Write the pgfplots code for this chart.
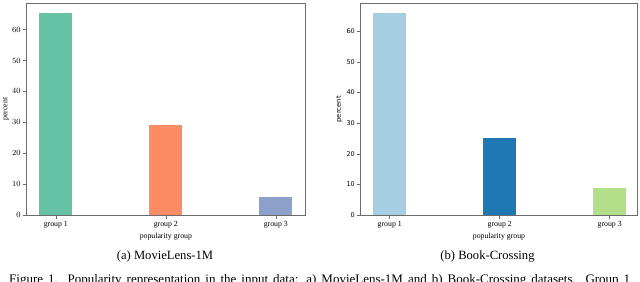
\documentclass[border=0pt]{standalone}
\usepackage{fontspec}
\setmainfont{Liberation Serif}
\newfontfamily\dejavu{DejaVu Sans}
\usepackage{pgfplots}
\pgfplotsset{compat=1.18}
\definecolor{axgray}{rgb}{0.42,0.42,0.42}
\definecolor{s2a}{HTML}{66C2A5}
\definecolor{s2b}{HTML}{FC8D62}
\definecolor{s2c}{HTML}{8DA0CB}
\definecolor{pa}{HTML}{A6CEE3}
\definecolor{pb}{HTML}{1F78B4}
\definecolor{pc}{HTML}{B2DF8A}
\pgfplotsset{
  mystyle/.style={
    scale only axis,
    width=#1,
    height=212bp,
    ymin=0,
    axis line style={axgray, line width=0.6pt},
    xtick={0,1,2},
    xticklabels={group 1,group 2,group 3},
    ytick={0,10,20,30,40,50,60},
    tick align=outside,
    tick pos=left,
    major tick length=4bp,
    tick style={axgray, line width=0.5pt},
    xticklabel style={font=\fontsize{7.8bp}{9bp}\selectfont, anchor=base, yshift=-7bp, inner sep=0pt},
    xlabel={popularity group},
    xlabel style={font=\fontsize{7.8bp}{9bp}\selectfont, at={(axis description cs:0.5,0)}, anchor=base, yshift=-23bp, inner sep=0pt},
    ylabel={percent},
    bar width=0.3,
    every axis plot/.append style={draw=none},
  }
}
\begin{document}
\begin{tikzpicture}[x=1bp,y=1bp]
\useasboundingbox (0,0) rectangle (640,281);
\clip (0,0) rectangle (640,281);
\begin{axis}[mystyle=278.3bp,
  at={(26.7bp,66bp)}, anchor=south west,
  xmin=-0.265, xmax=2.265, ymax=68.6,
  yticklabel style={font=\fontsize{7.6bp}{9bp}\selectfont, anchor=east, inner sep=0pt, xshift=-2bp},
  ylabel style={font=\fontsize{7.8bp}{9bp}\selectfont, at={([xshift=-20.7bp]axis description cs:0,0.5)}, anchor=center, inner sep=0pt},
]
\addplot[ybar, fill=s2a] coordinates {(0,65.4)};
\addplot[ybar, fill=s2b] coordinates {(1,29.0)};
\addplot[ybar, fill=s2c] coordinates {(2,5.7)};
\end{axis}
\begin{axis}[mystyle=276.6bp,
  at={(360.7bp,65.7bp)}, anchor=south west,
  xmin=-0.264, xmax=2.251, ymax=69.1,
  yticklabel style={font=\dejavu\fontsize{6.5bp}{8bp}\selectfont, anchor=east, inner sep=0pt, xshift=-1.7bp},
  /pgf/number format/assume math mode=true,
  ylabel style={font=\dejavu\fontsize{6.8bp}{8bp}\selectfont, at={([xshift=-21.4bp]axis description cs:0,0.5)}, anchor=center, inner sep=0pt},
]
\addplot[ybar, fill=pa] coordinates {(0,66.0)};
\addplot[ybar, fill=pb] coordinates {(1,25.2)};
\addplot[ybar, fill=pc] coordinates {(2,9.0)};
\end{axis}
\node[anchor=base, inner sep=0pt, font=\fontsize{12.6bp}{15bp}\selectfont] at (165,22) {(a) MovieLens-1M};
\node[anchor=base, inner sep=0pt, font=\fontsize{12.6bp}{15bp}\selectfont] at (487.5,22) {(b) Book-Crossing};
\node[anchor=base west, inner sep=0pt, font=\fontsize{13bp}{15bp}\selectfont] at (9,-2) {\makebox[621bp][s]{Figure 1. Popularity representation in the input data: a) MovieLens-1M and b) Book-Crossing datasets. Group 1}};
\end{tikzpicture}
\end{document}
